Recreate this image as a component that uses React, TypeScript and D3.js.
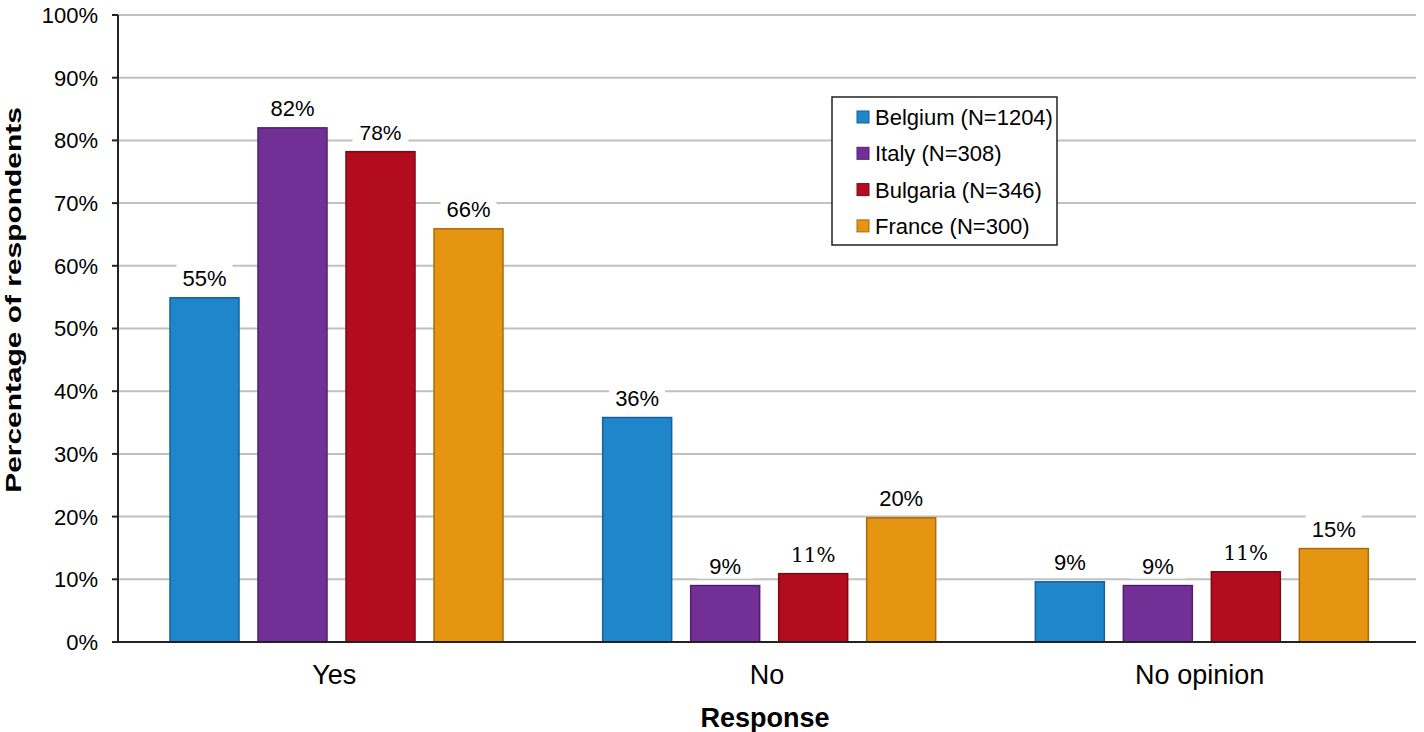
import React from "react";
import * as d3 from "d3";

const categories = ["Yes", "No", "No opinion"];
const seriesNames = ["Belgium (N=1204)", "Italy (N=308)", "Bulgaria (N=346)", "France (N=300)"];
const belgium = [54.9, 35.8, 9.6];
const italy = [82.0, 9.0, 9.0];
const bulgaria = [78.2, 10.9, 11.2];
const france = [65.9, 19.8, 14.9];
const valueLabels = [
  ["55%", "36%", "9%"],
  ["82%", "9%", "9%"],
  ["78%", "11%", "11%"],
  ["66%", "20%", "15%"],
];
const yTicks = [0, 10, 20, 30, 40, 50, 60, 70, 80, 90, 100];
const fills = ["#1f86cc", "#722f96", "#b30c1e", "#e59512"];
const strokes = ["#17609a", "#4e1f6a", "#7c0814", "#a86b0b"];

export default function App() {
  const W = 1424, H = 732;
  const left = 118, right = 1416, top = 15, bottom = 642;
  const series = [belgium, italy, bulgaria, france];
  const x0 = d3.scaleBand().domain(categories).range([left, right]).paddingInner(0).paddingOuter(0);
  const x1 = d3.scaleBand().domain(seriesNames).range([52, 385]).paddingInner(0.216);
  const y = d3.scaleLinear().domain([0, 100]).range([bottom, top]);
  const font = "'Liberation Sans', Arial, sans-serif";
  const labels: any[] = [];
  return (
    <svg width={W} height={H} style={{ position: "absolute", left: 0, top: 0, background: "#fff" }} fontFamily={font}>
      {yTicks.map((t) => (
        <g key={t}>
          {t > 0 && <line x1={left} x2={right} y1={y(t)} y2={y(t)} stroke="#c0c0c0" strokeWidth={2} />}
          <line x1={left - 6} x2={left} y1={y(t)} y2={y(t)} stroke="#222" strokeWidth={2} />
          <text x={98} y={y(t)} dy="0.36em" textAnchor="end" fontSize={22} fill="#000">{t}%</text>
        </g>
      ))}
      {series.map((vals, si) =>
        categories.map((c, ci) => {
          const bx = (x0(c) as number) + (x1(seriesNames[si]) as number);
          const bw = x1.bandwidth();
          const by = y(vals[ci]);
          const lab = valueLabels[si][ci];
          const isSerif = lab === "11%";
          labels.push(
            <g key={`l${si}-${ci}`}>
              <rect x={bx + bw / 2 - 28} y={by - 34} width={56} height={27} fill="#fff" />
              <text x={bx + bw / 2} y={by - 12} textAnchor="middle" fontSize={isSerif ? 20 : lab === "78%" ? 21 : 22}
                fontFamily={isSerif ? "'DejaVu Serif', serif" : font} fill="#000">{lab}</text>
            </g>
          );
          return (
            <rect key={`b${si}-${ci}`} x={bx} y={by} width={bw} height={bottom - by}
              fill={fills[si]} stroke={strokes[si]} strokeWidth={1.5} />
          );
        })
      )}
      {labels}
      <line x1={left} x2={left} y1={top} y2={bottom} stroke="#222" strokeWidth={2} />
      <line x1={left - 6} x2={right} y1={bottom} y2={bottom} stroke="#222" strokeWidth={2} />
      {categories.map((c) => (
        <text key={c} x={(x0(c) as number) + x0.bandwidth() / 2} y={684} textAnchor="middle" fontSize={27} fill="#000">{c}</text>
      ))}
      <text x={765} y={727} textAnchor="middle" fontSize={27} fontWeight="bold" fill="#000">Response</text>
      <text transform={`translate(21, 300) rotate(-90) scale(1.36, 1)`} textAnchor="middle" fontSize={22} fontWeight="bold" fill="#000">Percentage of respondents</text>
      <g>
        <rect x={832} y={97} width={225} height={148} fill="#fff" stroke="#222" strokeWidth={1.5} />
        {seriesNames.map((n, i) => (
          <g key={n}>
            <rect x={857} y={111 + i * 36.3} width={12} height={12} fill={fills[i]} stroke={strokes[i]} strokeWidth={1} />
            <text x={875} y={117 + i * 36.3} dy="0.36em" fontSize={22} fill="#000">{n}</text>
          </g>
        ))}
      </g>
    </svg>
  );
}
